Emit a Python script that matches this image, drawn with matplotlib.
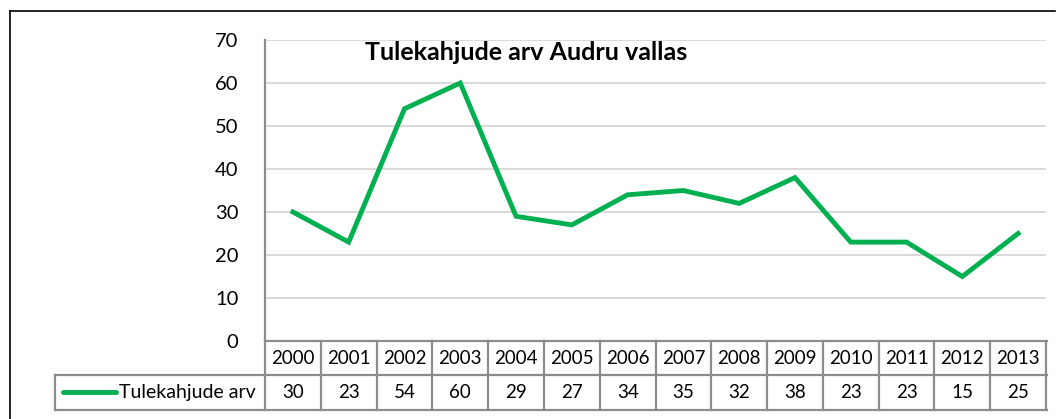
import numpy as np
import matplotlib.pyplot as plt
from matplotlib.lines import Line2D
from matplotlib.transforms import blended_transform_factory

# chart data
years = ['2000', '2001', '2002', '2003', '2004', '2005', '2006',
         '2007', '2008', '2009', '2010', '2011', '2012', '2013']
fires = [30, 23, 54, 60, 29, 27, 34, 35, 32, 38, 23, 23, 15, 25]
series_name = 'Tulekahjude arv'
title = 'Tulekahjude arv Audru vallas'
y_ticks = [0, 10, 20, 30, 40, 50, 60, 70]

W, H = 1059, 419
green = '#00B050'
grid_col = '#D9D9D9'
table_col = '#8C8C8C'
plt.rcParams['font.family'] = ['Lato', 'DejaVu Sans']

def fy(py):
    return 1 - py / H

def fx(px):
    return px / W

fig = plt.figure(figsize=(W / 100, H / 100), dpi=100)
ax = fig.add_axes([fx(265), fy(341), fx(1046) - fx(265), fy(40) - fy(341)])

x = np.arange(len(years))
ax.plot(x, fires, color=green, lw=3.5, solid_joinstyle='miter', zorder=3)
ax.set_xlim(-0.5, len(years) - 0.5)
ax.set_ylim(0, 70)
ax.set_yticks(y_ticks)
ax.set_xticks([])
ax.tick_params(axis='y', length=0, pad=19, labelsize=14.5)
for s in ['top', 'right', 'bottom']:
    ax.spines[s].set_visible(False)
ax.spines['left'].set_color(table_col)
ax.spines['left'].set_linewidth(1.6)
ax.yaxis.grid(True, color=grid_col, lw=1.4)
ax.set_axisbelow(True)

ax.text(fx(526), fy(52), title, transform=fig.transFigure, ha='center', va='center',
        fontsize=18, fontweight='bold')

# data table under the chart
tr = blended_transform_factory(ax.transData, fig.transFigure)
ftr = fig.transFigure
y_top, y_mid, y_bot = fy(341), fy(375), fy(410)
lkw = dict(color=table_col, lw=1.6, clip_on=False)
fig.add_artist(Line2D([fx(265), fx(1047)], [y_top, y_top], transform=ftr, **lkw))
fig.add_artist(Line2D([fx(55), fx(1047)], [y_mid, y_mid], transform=ftr, **lkw))
fig.add_artist(Line2D([fx(55), fx(1047)], [y_bot, y_bot], transform=ftr, **lkw))
fig.add_artist(Line2D([fx(55), fx(55)], [y_mid, y_bot], transform=ftr, **lkw))
for i in range(len(years) + 1):
    ax.add_line(Line2D([i - 0.5, i - 0.5], [y_top, y_bot], transform=tr, **lkw))
for i, (yr, v) in enumerate(zip(years, fires)):
    ax.text(i, (y_top + y_mid) / 2, yr, transform=tr, ha='center', va='center', fontsize=13.5)
    ax.text(i, (y_mid + y_bot) / 2, str(v), transform=tr, ha='center', va='center', fontsize=13.5)

# legend key in table
fig.add_artist(Line2D([fx(63), fx(116)], [fy(392), fy(392)], transform=ftr,
                      color=green, lw=3.5, solid_capstyle='round'))
fig.text(fx(119), fy(392), series_name, ha='left', va='center', fontsize=14)

# outer chart border
fig.add_artist(Line2D([fx(10), fx(1055)], [fy(11), fy(11)], transform=ftr, color='black', lw=1.2))
fig.add_artist(Line2D([fx(10), fx(10)], [fy(11), 0], transform=ftr, color='black', lw=1.2))

fig.savefig('out.png', dpi=100)
